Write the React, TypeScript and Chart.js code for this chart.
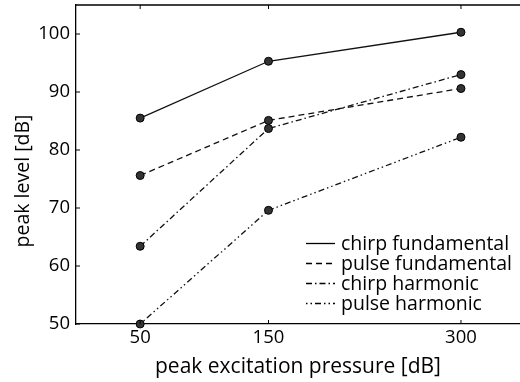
import { useEffect, useRef } from "react";
import { Chart, registerables } from "chart.js";

Chart.register(...registerables);

const pressures = [50, 150, 300];
const chirpFundamental = [85.5, 95.3, 100.3];
const pulseFundamental = [75.6, 85.1, 90.6];
const chirpHarmonic = [63.4, 83.7, 93.0];
const pulseHarmonic = [50.0, 69.6, 82.2];
const seriesNames = ["chirp fundamental", "pulse fundamental", "chirp harmonic", "pulse harmonic"];
const xTicks = [50, 150, 300];
const yTicks = [50, 60, 70, 80, 90, 100];
const xTitle = "peak excitation pressure [dB]";
const yTitle = "peak level [dB]";

const FONT = "'Open Sans', 'DejaVu Sans', sans-serif";
const dashes = [[], [6, 4], [6, 3, 1.5, 3], [1.5, 3, 1.5, 3, 6, 3]];

const zeroPad = (s: any) => {
  s.paddingTop = 0;
  s.paddingBottom = 0;
  s.paddingLeft = 0;
  s.paddingRight = 0;
};

const framePlugin = {
  id: "frame",
  afterDraw(chart: any) {
    const { ctx, chartArea } = chart;
    const xs = chart.scales.x;
    const ys = chart.scales.y;
    ctx.save();
    ctx.strokeStyle = "#000";
    ctx.lineWidth = 1.3;
    ctx.beginPath();
    ctx.moveTo(chartArea.left, chartArea.top);
    ctx.lineTo(chartArea.right, chartArea.top);
    ctx.stroke();
    ctx.lineWidth = 1;
    ctx.beginPath();
    xs.ticks.forEach((t: any) => {
      const px = xs.getPixelForValue(t.value);
      ctx.moveTo(px, chartArea.bottom);
      ctx.lineTo(px, chartArea.bottom - 4);
      ctx.moveTo(px, chartArea.top);
      ctx.lineTo(px, chartArea.top + 4);
    });
    ys.ticks.forEach((t: any) => {
      const py = ys.getPixelForValue(t.value);
      ctx.moveTo(chartArea.left, py);
      ctx.lineTo(chartArea.left + 4, py);
    });
    ctx.stroke();

    ctx.fillStyle = "#000";
    ctx.font = `19.5px ${FONT}`;
    ctx.textAlign = "center";
    ctx.textBaseline = "middle";
    ctx.save();
    ctx.translate(23, chartArea.top + 176);
    ctx.rotate(-Math.PI / 2);
    ctx.fillText(yTitle, 0, 0);
    ctx.restore();

    const lx0 = chartArea.left + 230;
    const lx1 = chartArea.left + 259;
    const tx = chartArea.left + 265;
    const y0 = chartArea.top + 238.5;
    chart.data.datasets.forEach((ds: any, i: number) => {
      const y = y0 + i * 20;
      ctx.setLineDash(ds.borderDash || []);
      ctx.lineWidth = 1.3;
      ctx.beginPath();
      ctx.moveTo(lx0, y);
      ctx.lineTo(lx1, y);
      ctx.stroke();
      ctx.setLineDash([]);
      ctx.textAlign = "left";
      ctx.fillText(ds.label, tx, y + 0.5);
    });
    ctx.restore();
  },
};

export default function App() {
  const ref = useRef<HTMLCanvasElement | null>(null);
  useEffect(() => {
    if (!ref.current) return;
    const series = [chirpFundamental, pulseFundamental, chirpHarmonic, pulseHarmonic];
    const chart = new Chart(ref.current, {
      type: "line",
      data: {
        datasets: series.map((vals, i) => ({
          label: seriesNames[i],
          data: pressures.map((p, j) => ({ x: p, y: vals[j] })),
          borderColor: "#111",
          borderWidth: 1.3,
          borderDash: dashes[i],
          pointRadius: 4,
          pointBackgroundColor: "#333",
          pointBorderColor: "#000",
          pointBorderWidth: 1,
          fill: false,
          tension: 0,
          clip: false,
        })),
      },
      options: {
        responsive: false,
        maintainAspectRatio: false,
        animation: false,
        events: [],
        layout: { autoPadding: false, padding: { top: 5, right: 0, left: 0, bottom: 0 } },
        plugins: { legend: { display: false }, tooltip: { enabled: false } },
        scales: {
          x: {
            type: "linear",
            min: 0,
            max: 346,
            afterBuildTicks: (s: any) => {
              s.ticks = xTicks.map((v) => ({ value: v }));
            },
            afterFit: (s: any) => {
              s.height = 58;
              zeroPad(s);
            },
            grid: { drawOnChartArea: false, drawTicks: false },
            border: { display: true, color: "#000", width: 1.3 },
            ticks: {
              color: "#000",
              font: { family: FONT, size: 18.5 },
              padding: 3,
              maxRotation: 0,
              autoSkip: false,
            },
            title: {
              display: true,
              text: xTitle,
              color: "#000",
              font: { family: FONT, size: 21 },
              padding: { top: 0, bottom: 2 },
            },
          },
          y: {
            type: "linear",
            min: 50,
            max: 105,
            afterBuildTicks: (s: any) => {
              s.ticks = yTicks.map((v) => ({ value: v }));
            },
            afterFit: (s: any) => {
              s.width = 76;
              zeroPad(s);
            },
            grid: { drawOnChartArea: false, drawTicks: false },
            border: { display: true, color: "#000", width: 1.3 },
            ticks: {
              color: "#000",
              font: { family: FONT, size: 18.5 },
              padding: 6,
              autoSkip: false,
            },
          },
        },
      },
      plugins: [framePlugin],
    });
    return () => chart.destroy();
  }, []);
  return (
    <div style={{ position: "fixed", left: 0, top: 0, width: 520, height: 382, background: "#fff" }}>
      <canvas ref={ref} width={520} height={382} style={{ display: "block", width: 520, height: 382 }} />
    </div>
  );
}
